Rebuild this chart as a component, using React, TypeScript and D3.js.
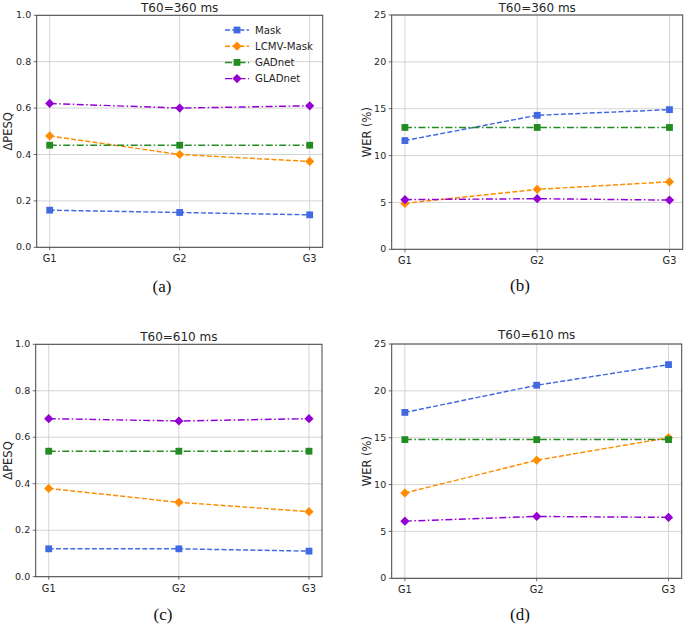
import React from 'react';
import * as d3 from 'd3';

const categories = ['G1', 'G2', 'G3'];
const seriesNames = ['Mask', 'LCMV-Mask', 'GADnet', 'GLADnet'];
const pesqTicks = [0, 0.2, 0.4, 0.6, 0.8, 1.0];
const werTicks = [0, 5, 10, 15, 20, 25];

const pesq360Mask = [0.16, 0.15, 0.14];
const pesq360Lcmv = [0.48, 0.40, 0.37];
const pesq360Gad = [0.44, 0.44, 0.44];
const pesq360Glad = [0.62, 0.60, 0.61];

const wer360Mask = [11.6, 14.3, 14.9];
const wer360Lcmv = [4.9, 6.4, 7.2];
const wer360Gad = [13.0, 13.0, 13.0];
const wer360Glad = [5.3, 5.4, 5.25];

const pesq610Mask = [0.12, 0.12, 0.11];
const pesq610Lcmv = [0.38, 0.32, 0.28];
const pesq610Gad = [0.54, 0.54, 0.54];
const pesq610Glad = [0.68, 0.67, 0.68];

const wer610Mask = [17.7, 20.6, 22.8];
const wer610Lcmv = [9.1, 12.6, 15.0];
const wer610Gad = [14.8, 14.8, 14.8];
const wer610Glad = [6.1, 6.6, 6.5];

const styles = [
  { color: '#4169E1', dash: '5,2.2', marker: 'square' },
  { color: '#FF8C00', dash: '5,2.2', marker: 'diamond' },
  { color: '#228B22', dash: '7,2.5,1.5,2.5', marker: 'square' },
  { color: '#9400D3', dash: '7,2.5,1.5,2.5', marker: 'diamond' },
];

const SANS = 'DejaVu Sans, sans-serif';
const TXT = '#262626';

function Marker({ x, y, kind, color }: { x: number; y: number; kind: string; color: string }) {
  if (kind === 'square') {
    const s = 6.8;
    return <rect x={x - s / 2} y={y - s / 2} width={s} height={s} fill={color} />;
  }
  const r = 4.6;
  return <path d={`M${x},${y - r}L${x + r},${y}L${x},${y + r}L${x - r},${y}Z`} fill={color} />;
}

type PanelProps = {
  l: number; r: number; t: number; b: number;
  yMax: number; yTicks: number[]; fmt: (v: number) => string;
  title: string; titleY: number;
  ylabel: string; ylabelX: number;
  letter: string; letterX: number; letterY: number;
  series: number[][];
  legend?: boolean;
};

function Panel(p: PanelProps) {
  const x = d3.scalePoint<string>().domain(categories).range([p.l, p.r]).padding(0.1);
  const y = d3.scaleLinear().domain([0, p.yMax]).range([p.b, p.t]);
  const line = d3.line<number>()
    .x((_, i) => x(categories[i]) as number)
    .y((d) => y(d));
  const cx = (p.l + p.r) / 2;
  const cy = (p.t + p.b) / 2;
  return (
    <g>
      {p.yTicks.map((t) => (
        <line key={'gy' + t} x1={p.l} x2={p.r} y1={y(t)} y2={y(t)} stroke="#cfcfcf" strokeWidth={0.9} />
      ))}
      {categories.map((c) => (
        <line key={'gx' + c} x1={x(c)} x2={x(c)} y1={p.t} y2={p.b} stroke="#cfcfcf" strokeWidth={0.9} />
      ))}
      {p.series.map((vals, si) => (
        <g key={'s' + si}>
          <path d={line(vals) || ''} fill="none" stroke={styles[si].color} strokeWidth={1.45} strokeDasharray={styles[si].dash} />
          {vals.map((v, i) => (
            <Marker key={i} x={x(categories[i]) as number} y={y(v)} kind={styles[si].marker} color={styles[si].color} />
          ))}
        </g>
      ))}
      <rect x={p.l} y={p.t} width={p.r - p.l} height={p.b - p.t} fill="none" stroke="#444" strokeWidth={1} />
      {p.yTicks.map((t) => (
        <g key={'ty' + t}>
          <line x1={p.l - 3} x2={p.l} y1={y(t)} y2={y(t)} stroke="#444" strokeWidth={0.8} />
          <text x={p.l - 5.5} y={y(t)} dy="0.33em" textAnchor="end" fontSize={9.5} fontFamily={SANS} fill={TXT}>{p.fmt(t)}</text>
        </g>
      ))}
      {categories.map((c) => (
        <g key={'tx' + c}>
          <line x1={x(c)} x2={x(c)} y1={p.b} y2={p.b + 3} stroke="#444" strokeWidth={0.8} />
          <text x={x(c)} y={p.b + 15} textAnchor="middle" fontSize={9.8} fontFamily={SANS} fill={TXT}>{c}</text>
        </g>
      ))}
      <text x={cx} y={p.titleY} textAnchor="middle" fontSize={12} fontFamily={SANS} fill={TXT}>{p.title}</text>
      <text transform={`translate(${p.ylabelX},${cy}) rotate(-90)`} textAnchor="middle" fontSize={11.5} fontFamily={SANS} fill={TXT}>{p.ylabel}</text>
      <text x={p.letterX} y={p.letterY} textAnchor="middle" fontSize={17} fontFamily="Liberation Serif, Times New Roman, serif" fill="#111">{p.letter}</text>
      {p.legend && (
        <g>
          {seriesNames.map((n, i) => {
            const ly = 30 + i * 16.2;
            return (
              <g key={n}>
                <line x1={225} x2={249} y1={ly} y2={ly} stroke={styles[i].color} strokeWidth={1.45} strokeDasharray={styles[i].dash} />
                <Marker x={237} y={ly} kind={styles[i].marker} color={styles[i].color} />
                <text x={255} y={ly} dy="0.35em" fontSize={10.2} fontFamily={SANS} fill={TXT}>{n}</text>
              </g>
            );
          })}
        </g>
      )}
    </g>
  );
}

export default function App() {
  const f1 = (v: number) => v.toFixed(1);
  const f0 = (v: number) => String(v);
  return (
    <svg width={685} height={627} style={{ position: 'absolute', left: 0, top: 0, background: '#fff' }}>
      <rect width={685} height={627} fill="#fff" />
      <Panel l={36.7} r={322.7} t={15.3} b={247.3} yMax={1} yTicks={pesqTicks} fmt={f1}
        title="T60=360 ms" titleY={11.5} ylabel="ΔPESQ" ylabelX={11.5}
        letter="(a)" letterX={162} letterY={292}
        series={[pesq360Mask, pesq360Lcmv, pesq360Gad, pesq360Glad]} legend />
      <Panel l={391.7} r={682.7} t={15} b={249.3} yMax={25} yTicks={werTicks} fmt={f0}
        title="T60=360 ms" titleY={11.5} ylabel="WER (%)" ylabelX={371}
        letter="(b)" letterX={520} letterY={291}
        series={[wer360Mask, wer360Lcmv, wer360Gad, wer360Glad]} />
      <Panel l={35.7} r={322} t={344.3} b={576.7} yMax={1} yTicks={pesqTicks} fmt={f1}
        title="T60=610 ms" titleY={340.5} ylabel="ΔPESQ" ylabelX={11.5}
        letter="(c)" letterX={163} letterY={620}
        series={[pesq610Mask, pesq610Lcmv, pesq610Gad, pesq610Glad]} />
      <Panel l={391.7} r={681.7} t={344} b={578.3} yMax={25} yTicks={werTicks} fmt={f0}
        title="T60=610 ms" titleY={339} ylabel="WER (%)" ylabelX={371}
        letter="(d)" letterX={520} letterY={620}
        series={[wer610Mask, wer610Lcmv, wer610Gad, wer610Glad]} />
    </svg>
  );
}
